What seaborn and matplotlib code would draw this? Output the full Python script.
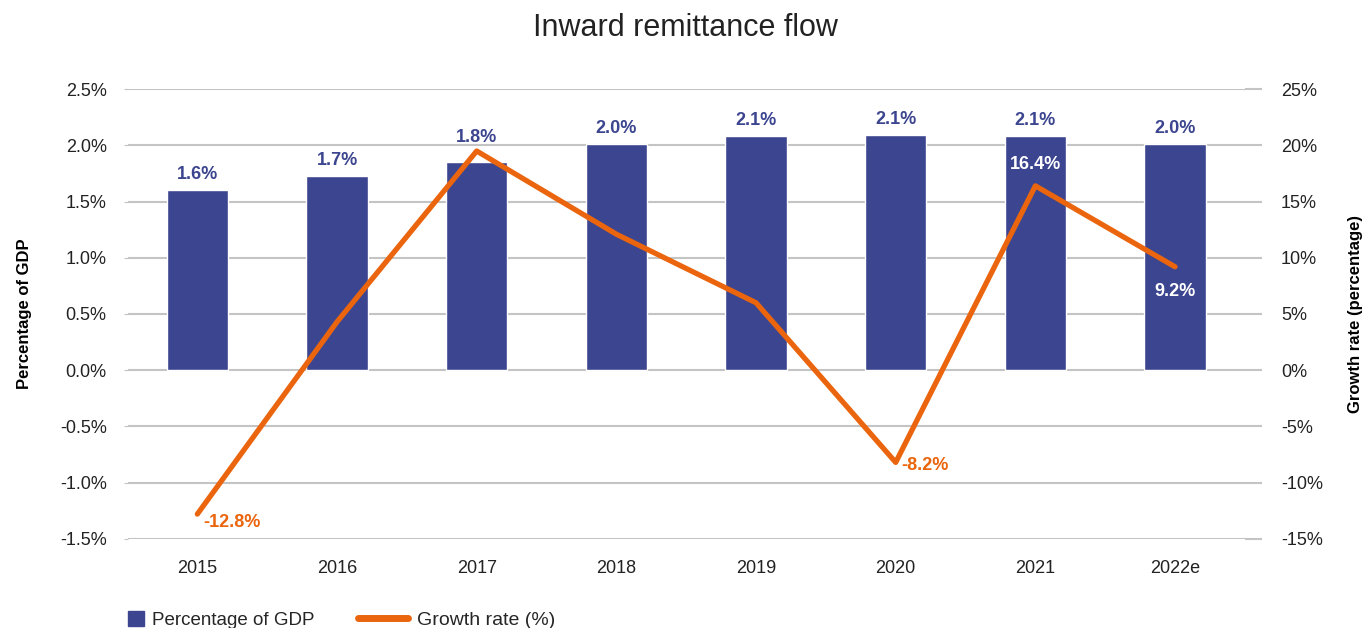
import numpy as np
import matplotlib
matplotlib.use('Agg')
import matplotlib.pyplot as plt
import seaborn as sns
from matplotlib.patches import Patch
from matplotlib.lines import Line2D
from matplotlib.ticker import FuncFormatter

# Data
years = ['2015', '2016', '2017', '2018', '2019', '2020', '2021', '2022e']
gdp_share = [1.60, 1.73, 1.85, 2.01, 2.08, 2.09, 2.08, 2.01]
gdp_labels = ['1.6%', '1.7%', '1.8%', '2.0%', '2.1%', '2.1%', '2.1%', '2.0%']
growth = [-12.8, 4.3, 19.5, 12.1, 6.0, -8.2, 16.4, 9.2]
growth_labels = {0: '-12.8%', 5: '-8.2%', 6: '16.4%', 7: '9.2%'}

navy = '#3c458f'
orange = '#ea650d'
grid_col = '#c4c4c4'
text_col = '#222222'

sns.set_style('white')
plt.rcParams['font.family'] = ['Liberation Sans', 'DejaVu Sans']

fig = plt.figure(figsize=(13.71, 6.28), dpi=100)
ax = fig.add_axes([0.093, 0.142, 0.815, 0.716])

sns.barplot(x=years, y=gdp_share, ax=ax, color=navy, saturation=1, width=0.44)
ax.set_ylim(-1.5, 2.5)
ax.set_yticks(np.arange(-1.5, 2.51, 0.5))
ax.yaxis.set_major_formatter(FuncFormatter(lambda v, p: f'{v:.1f}%'))
ax.set_xlim(-0.5, len(years) - 0.5)
ax.grid(axis='y', color=grid_col, linewidth=1.5)
ax.set_axisbelow(True)
for s in ax.spines.values():
    s.set_visible(False)
ax.tick_params(axis='y', length=3, color=grid_col, labelsize=13, labelcolor=text_col, pad=12)
ax.tick_params(axis='x', length=0, labelsize=13, labelcolor=text_col, pad=15)
ax.set_ylabel('Percentage of GDP', fontsize=12, fontweight='bold', color='black', labelpad=20)

# bar value labels (2017 label sits higher, clear of the line peak)
for i, (v, lab) in enumerate(zip(gdp_share, gdp_labels)):
    dy = 12 if i == 2 else 5
    ax.annotate(lab, (i, v), xytext=(0, dy), textcoords='offset points',
                ha='center', va='bottom', fontsize=13, fontweight='bold', color=navy)

ax2 = ax.twinx()
sns.lineplot(x=np.arange(len(years)), y=growth, ax=ax2, color=orange, linewidth=3.8)
ax2.set_ylim(-15, 25)
ax2.set_yticks(np.arange(-15, 26, 5))
ax2.yaxis.set_major_formatter(FuncFormatter(lambda v, p: f'{v:.0f}%'))
for s in ax2.spines.values():
    s.set_visible(False)
ax2.tick_params(axis='y', length=12, color=grid_col, width=1.5, labelsize=13, labelcolor=text_col, pad=14)
ax2.set_ylabel('Growth rate (percentage)', fontsize=12, fontweight='bold', color='black', labelpad=18)

offsets = {0: (4, -6, 'left', 'center', orange),
           5: (4, -2.5, 'left', 'center', orange),
           6: (0, 9, 'center', 'bottom', 'white'),
           7: (0, -12, 'center', 'top', 'white')}
for i, lab in growth_labels.items():
    dx, dy, ha, va, c = offsets[i]
    ax2.annotate(lab, (i, growth[i]), xytext=(dx, dy), textcoords='offset points',
                 ha=ha, va=va, fontsize=13, fontweight='bold', color=c)

fig.text(0.5, 0.955, 'Inward remittance flow', ha='center', va='center',
         fontsize=22, color=text_col)

fig.legend([Patch(facecolor=navy, edgecolor=navy)], ['Percentage of GDP'],
           loc='center left', bbox_to_anchor=(0.0934, 0.0127), frameon=False,
           fontsize=13.5, handlelength=0.85, handleheight=0.85, handletextpad=0.45,
           borderpad=0, borderaxespad=0)
fig.legend([Line2D([0], [0], color=orange, linewidth=5, solid_capstyle='round')],
           ['Growth rate (%)'], loc='center left', bbox_to_anchor=(0.261, 0.0127),
           frameon=False, fontsize=14, handlelength=2.6, handletextpad=0.45,
           borderpad=0, borderaxespad=0)

fig.savefig('out.png', dpi=100)
